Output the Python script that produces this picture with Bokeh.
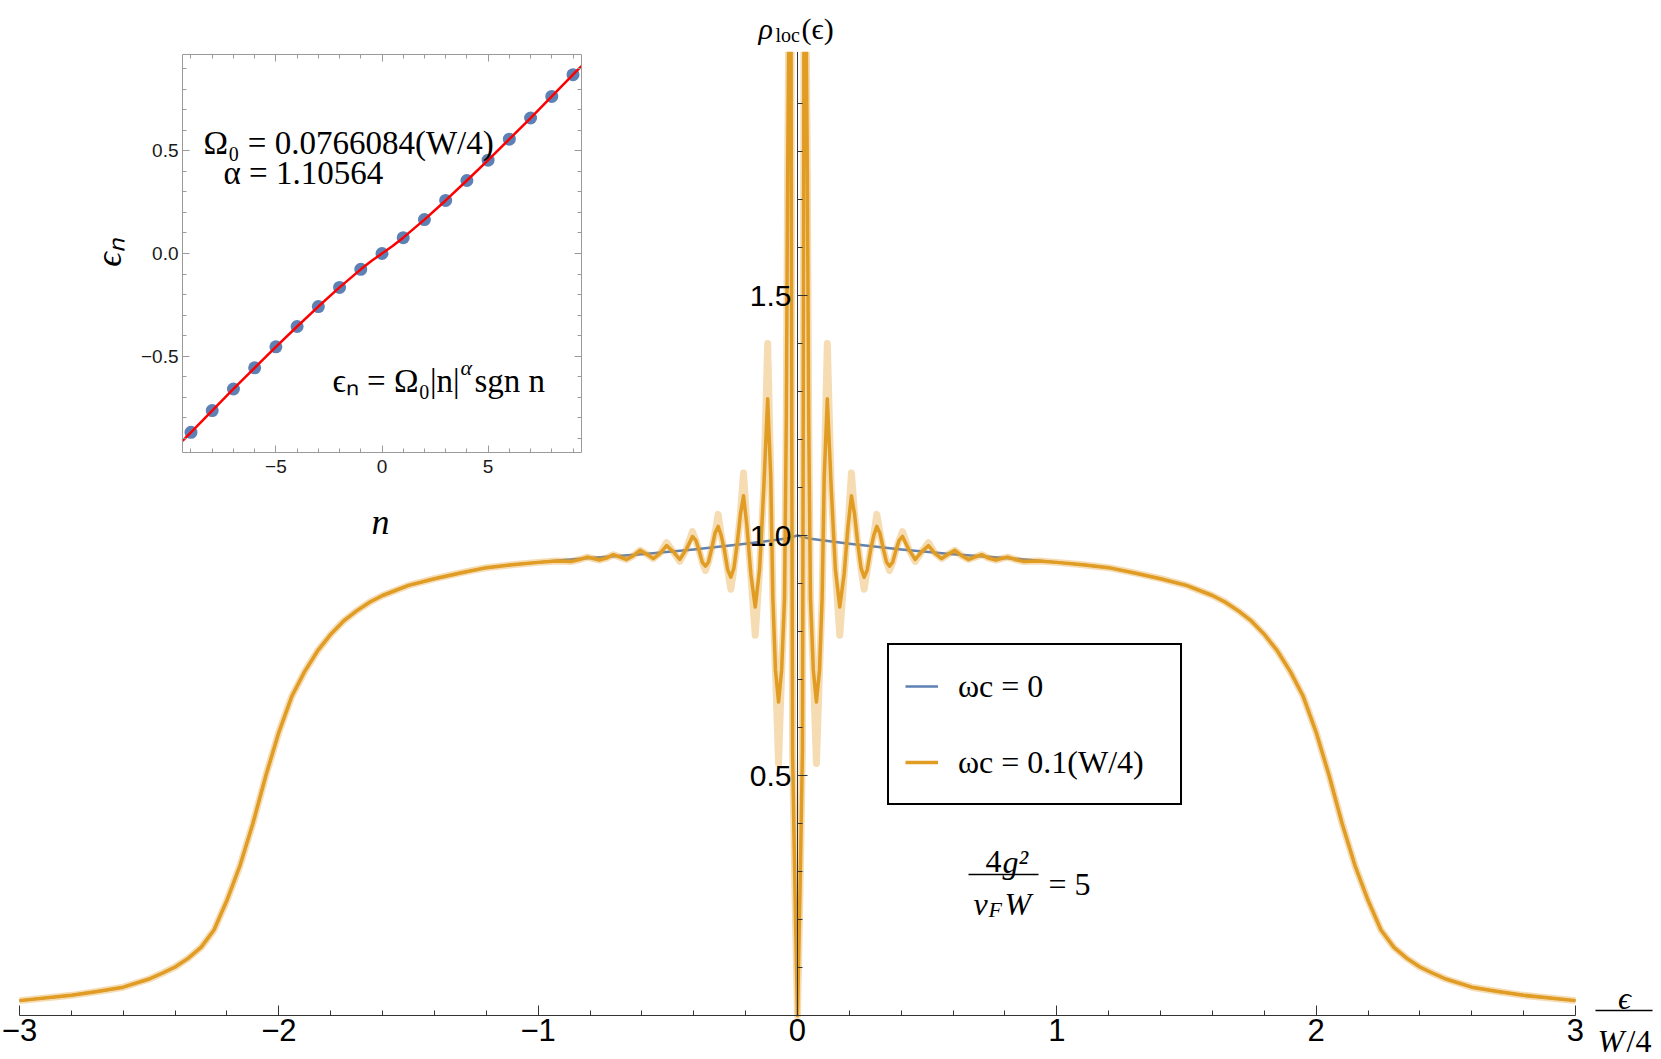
import math
from bokeh.plotting import figure
from bokeh.models import (LinearAxis, FixedTicker, Range1d, Label, Legend, LegendItem, BoxAnnotation)
from bokeh.embed import file_html
from bokeh.resources import INLINE

# ---------------- data ----------------
# band-edge shoulders (both curves coincide there)
shoulder_x_left = [-3.0, -2.8, -2.7, -2.6, -2.5, -2.45, -2.4, -2.35, -2.3, -2.25, -2.2, -2.15, -2.1, -2.05,
                   -2.0, -1.95, -1.9, -1.85, -1.8, -1.75, -1.7, -1.65, -1.6, -1.5, -1.4, -1.3, -1.2, -1.1, -1.0]
shoulder_y_left = [0.031, 0.042, 0.050, 0.059, 0.076, 0.088, 0.101, 0.119, 0.142, 0.178, 0.240, 0.312, 0.400, 0.500,
                   0.590, 0.665, 0.717, 0.760, 0.794, 0.822, 0.843, 0.861, 0.875, 0.896, 0.910, 0.922, 0.933, 0.939, 0.944]
shoulder_x_right = [1.0, 1.1, 1.2, 1.3, 1.4, 1.5, 1.6, 1.65, 1.7, 1.75, 1.8, 1.85, 1.9, 1.95, 2.0,
                    2.05, 2.1, 2.15, 2.2, 2.25, 2.3, 2.35, 2.4, 2.45, 2.5, 2.6, 2.7, 2.8, 3.0]
shoulder_y_right = [0.944, 0.939, 0.933, 0.922, 0.910, 0.896, 0.875, 0.861, 0.843, 0.822, 0.794, 0.760, 0.717, 0.665,
                    0.590, 0.500, 0.400, 0.312, 0.240, 0.178, 0.142, 0.119, 0.101, 0.088, 0.076, 0.059, 0.050, 0.042, 0.031]

# omega_c = 0 (blue) central part
blue_center_x = [-0.9, -0.8, -0.6, -0.4, -0.2, -0.05, 0.0, 0.05, 0.2, 0.4, 0.6, 0.8, 0.9]
blue_center_y = [0.949, 0.953, 0.961, 0.971, 0.983, 0.993, 1.0, 0.993, 0.983, 0.971, 0.961, 0.953, 0.949]

# omega_c = 0.1 (orange) central oscillating part (the two central spikes leave the plot range)
osc_x_left = [-0.93, -0.87, -0.84, -0.81, -0.787, -0.764, -0.737, -0.71, -0.684, -0.659, -0.633, -0.607, -0.581,
              -0.556, -0.53, -0.505, -0.48, -0.454, -0.43, -0.405, -0.392, -0.38, -0.367, -0.355, -0.343,
              -0.331, -0.318, -0.306, -0.294, -0.282, -0.269, -0.257, -0.245, -0.232, -0.220, -0.208, -0.195,
              -0.18, -0.163, -0.146, -0.13, -0.115, -0.103, -0.095, -0.085, -0.073, -0.061, -0.05, -0.043,
              -0.038, -0.033, -0.029, -0.025, -0.022, -0.019, -0.012, -0.006, 0.0]
osc_y_left = [0.947, 0.946, 0.950, 0.955, 0.952, 0.949, 0.953, 0.960, 0.955, 0.950, 0.958, 0.969, 0.961,
              0.952, 0.963, 0.979, 0.967, 0.950, 0.970, 0.998, 0.990, 0.970, 0.944, 0.936, 0.945,
              0.972, 1.005, 1.019, 1.000, 0.970, 0.928, 0.913, 0.932, 0.985, 1.045, 1.083, 1.02,
              0.920, 0.851, 0.930, 1.10, 1.285, 1.12, 0.87, 0.72, 0.653, 0.72, 0.87, 1.25,
              1.75, 2.09, 2.09, 2.09, 1.2, 0.55, 0.33, 0.16, 0.0]
osc_band_left = [0.947, 0.946, 0.950, 0.955, 0.952, 0.949, 0.953, 0.960, 0.955, 0.950, 0.958, 0.969, 0.961,
                 0.952, 0.963, 0.985, 0.967, 0.946, 0.970, 1.008, 0.990, 0.970, 0.944, 0.927, 0.945,
                 0.972, 1.005, 1.044, 1.000, 0.970, 0.928, 0.888, 0.932, 0.985, 1.045, 1.13, 1.02,
                 0.920, 0.792, 0.930, 1.10, 1.40, 1.12, 0.87, 0.72, 0.525, 0.72, 0.87, 1.25,
                 1.75, 2.09, 2.09, 2.09, 1.2, 0.55, 0.33, 0.16, 0.0]
osc_x_right = [0.006, 0.012, 0.019, 0.022, 0.025, 0.029, 0.033, 0.038, 0.043, 0.05, 0.061, 0.073, 0.085, 0.095,
               0.103, 0.115, 0.13, 0.146, 0.163, 0.18, 0.195, 0.208, 0.220, 0.232, 0.245, 0.257, 0.269, 0.282,
               0.294, 0.306, 0.318, 0.331, 0.343, 0.355, 0.367, 0.38, 0.392, 0.405, 0.43, 0.454, 0.48, 0.505,
               0.53, 0.556, 0.581, 0.607, 0.633, 0.659, 0.684, 0.71, 0.737, 0.764, 0.787, 0.81, 0.84, 0.87, 0.93]
osc_y_right = [0.16, 0.33, 0.55, 1.2, 2.09, 2.09, 2.09, 1.75, 1.25, 0.87, 0.72, 0.653, 0.72, 0.87,
               1.12, 1.285, 1.10, 0.930, 0.851, 0.920, 1.02, 1.083, 1.045, 0.985, 0.932, 0.913, 0.928, 0.970,
               1.000, 1.019, 1.005, 0.972, 0.945, 0.936, 0.944, 0.970, 0.990, 0.998, 0.970, 0.950, 0.967, 0.979,
               0.963, 0.952, 0.961, 0.969, 0.958, 0.950, 0.955, 0.960, 0.953, 0.949, 0.952, 0.955, 0.950, 0.946, 0.947]
osc_band_right = [0.16, 0.33, 0.55, 1.2, 2.09, 2.09, 2.09, 1.75, 1.25, 0.87, 0.72, 0.525, 0.72, 0.87,
                  1.12, 1.40, 1.10, 0.930, 0.792, 0.920, 1.02, 1.13, 1.045, 0.985, 0.932, 0.888, 0.928, 0.970,
                  1.000, 1.044, 1.005, 0.972, 0.945, 0.927, 0.944, 0.970, 0.990, 1.008, 0.970, 0.946, 0.967, 0.985,
                  0.963, 0.952, 0.961, 0.969, 0.958, 0.950, 0.955, 0.960, 0.953, 0.949, 0.952, 0.955, 0.950, 0.946, 0.947]

x_ticks = [-3, -2, -1, 0, 1, 2, 3]
x_tick_labels = ["\u22123", "\u22122", "\u22121", "0", "1", "2", "3"]
x_minor = [-2.8, -2.6, -2.4, -2.2, -1.8, -1.6, -1.4, -1.2, -0.8, -0.6, -0.4, -0.2,
           0.2, 0.4, 0.6, 0.8, 1.2, 1.4, 1.6, 1.8, 2.2, 2.4, 2.6, 2.8]
y_ticks = [0.5, 1.0, 1.5]
y_tick_labels = ["0.5", "1.0", "1.5"]
y_minor = [0.1, 0.2, 0.3, 0.4, 0.6, 0.7, 0.8, 0.9, 1.1, 1.2, 1.3, 1.4, 1.6, 1.7, 1.8, 1.9]
Y_TOP = 2.008      # upper end of the plotted range

# inset data
inset_n = [-9, -8, -7, -6, -5, -4, -3, -2, -1, 0, 1, 2, 3, 4, 5, 6, 7, 8, 9]
inset_eps = [-0.870, -0.764, -0.659, -0.556, -0.454, -0.355, -0.258, -0.165, -0.077, 0.0,
             0.077, 0.165, 0.258, 0.355, 0.454, 0.556, 0.659, 0.764, 0.870]
fit_n = [-9.4, -9, -8, -7, -6, -5, -4, -3, -2, -1, -0.5, 0, 0.5, 1, 2, 3, 4, 5, 6, 7, 8, 9, 9.4]
fit_eps = [-0.912, -0.870, -0.764, -0.659, -0.556, -0.454, -0.355, -0.258, -0.165, -0.077, -0.036, 0.0,
           0.036, 0.077, 0.165, 0.258, 0.355, 0.454, 0.556, 0.659, 0.764, 0.870, 0.912]
inset_x_ticks = [-5, 0, 5]
inset_x_labels = ["\u22125", "0", "5"]
inset_x_minor = [-9, -8, -7, -6, -4, -3, -2, -1, 1, 2, 3, 4, 6, 7, 8, 9]
inset_y_ticks = [-0.5, 0.0, 0.5]
inset_y_labels = ["\u22120.5", "0.0", "0.5"]
inset_y_minor = [-0.9, -0.8, -0.7, -0.6, -0.4, -0.3, -0.2, -0.1, 0.1, 0.2, 0.3, 0.4, 0.6, 0.7, 0.8, 0.9]

blue_x = shoulder_x_left + blue_center_x + shoulder_x_right
blue_y = shoulder_y_left + blue_center_y + shoulder_y_right
orange_x = shoulder_x_left + osc_x_left + osc_x_right + shoulder_x_right
orange_y = shoulder_y_left + osc_y_left + osc_y_right + shoulder_y_right
orange_band = shoulder_y_left + osc_band_left + osc_band_right + shoulder_y_right

# ---------------- layout ----------------
BLUE = "#5E81B5"
ORANGE = "#E19C24"
FW, FH = 1660, 1058
PPX, PPY = 259.33, 480.0          # px per unit of the main plot
X0PX, Y0PX = 19, 1015              # px of x = -3 and of y = 0
XSTART = -3 - X0PX / PPX
XEND = -3 + (FW - X0PX) / PPX
YSTART = -(FH - Y0PX) / PPY
YEND = Y0PX / PPY

def dx(px):
    return -3 + (px - X0PX) / PPX

def dy(py):
    return (Y0PX - py) / PPY

# inset box (px)
IN_L, IN_R, IN_T, IN_B = 182, 581, 54, 452
N0, N1, E0, E1 = -9.4, 9.4, -0.968, 0.968
ippx = (IN_R - IN_L) / (N1 - N0)
ippy = (IN_B - IN_T) / (E1 - E0)
ix = Range1d(N0 - IN_L / ippx, N1 + (FW - IN_R) / ippx)
iy = Range1d(E0 - (FH - IN_B) / ippy, E1 + IN_T / ippy)

p = figure(width=FW, height=FH, x_range=Range1d(XSTART, XEND), y_range=Range1d(YSTART, YEND),
           output_backend="svg", toolbar_location=None,
           x_axis_location=None, y_axis_location=None,
           min_border_left=0, min_border_right=0, min_border_top=0, min_border_bottom=0)
p.outline_line_color = None
p.background_fill_color = "white"
p.border_fill_color = "white"
p.grid.visible = False
p.extra_x_ranges = {"ix": ix}
p.extra_y_ranges = {"iy": iy}

# ---------------- curves ----------------
r_blue = p.line(blue_x, blue_y, line_color=BLUE, line_width=2.5, line_join="round")
p.line(orange_x, orange_band, line_color=ORANGE, line_width=7, line_alpha=0.35, line_join="round")
r_orange = p.line(orange_x, orange_y, line_color=ORANGE, line_width=3.5, line_join="round")

# plot range ends at Y_TOP: hide what goes above it near the centre
p.add_layout(BoxAnnotation(left=-0.4, right=0.4, bottom=Y_TOP, top=YEND + 1.0,
                           fill_color="white", fill_alpha=1.0, line_color=None))

# ---------------- main axes ----------------
AX = "#333333"
xax = LinearAxis(fixed_location=0, bounds=(-3, 3),
                 ticker=FixedTicker(ticks=x_ticks, minor_ticks=x_minor),
                 major_label_overrides={v: s for v, s in zip(x_ticks, x_tick_labels)},
                 axis_line_color=AX, major_tick_line_color=AX, minor_tick_line_color=AX,
                 major_tick_in=10, major_tick_out=0, minor_tick_in=5, minor_tick_out=0,
                 major_label_standoff=3, major_label_text_font="Liberation Sans",
                 major_label_text_font_size="31px", major_label_text_color="black")
p.add_layout(xax, "below")
yax = LinearAxis(fixed_location=0, bounds=(0, Y_TOP),
                 ticker=FixedTicker(ticks=y_ticks, minor_ticks=y_minor),
                 major_label_overrides={v: s for v, s in zip(y_ticks, y_tick_labels)},
                 axis_line_color=AX, major_tick_line_color=AX, minor_tick_line_color=AX,
                 major_tick_in=10, major_tick_out=0, minor_tick_in=5, minor_tick_out=0,
                 major_label_standoff=6, major_label_text_font="Liberation Sans",
                 major_label_text_font_size="30px", major_label_text_color="black")
p.add_layout(yax, "left")

# ---------------- inset ----------------
p.scatter(inset_n, inset_eps, x_range_name="ix", y_range_name="iy", size=13, fill_color=BLUE, line_color=None)
p.line(fit_n, fit_eps, x_range_name="ix", y_range_name="iy", line_color="#FF0000", line_width=2.5)

FRAME = "#9A9A9A"
common = dict(x_range_name="ix", y_range_name="iy", axis_line_color=FRAME,
              major_tick_line_color=FRAME, minor_tick_line_color=FRAME,
              major_tick_in=7, major_tick_out=0, minor_tick_in=4, minor_tick_out=0,
              major_label_text_font="Liberation Sans", major_label_text_font_size="19px",
              major_label_text_color="#1a1a1a")
ib = LinearAxis(fixed_location=E0, bounds=(N0, N1),
                ticker=FixedTicker(ticks=inset_x_ticks, minor_ticks=inset_x_minor),
                major_label_overrides={v: s for v, s in zip(inset_x_ticks, inset_x_labels)},
                major_label_standoff=7, **common)
p.add_layout(ib, "below")
it = LinearAxis(fixed_location=E1, bounds=(N0, N1),
                ticker=FixedTicker(ticks=inset_x_ticks, minor_ticks=inset_x_minor),
                major_label_overrides={v: "" for v in inset_x_ticks}, **common)
p.add_layout(it, "above")
il = LinearAxis(fixed_location=N0, bounds=(E0, E1),
                ticker=FixedTicker(ticks=inset_y_ticks, minor_ticks=inset_y_minor),
                major_label_overrides={v: s for v, s in zip(inset_y_ticks, inset_y_labels)},
                major_label_standoff=4, **common)
p.add_layout(il, "left")
ir = LinearAxis(fixed_location=N1, bounds=(E0, E1),
                ticker=FixedTicker(ticks=inset_y_ticks, minor_ticks=inset_y_minor),
                major_label_overrides={v: "" for v in inset_y_ticks}, **common)
p.add_layout(ir, "right")

# ---------------- legend ----------------
legend = Legend(items=[LegendItem(label="\u03c9c = 0", renderers=[r_blue]),
                       LegendItem(label="\u03c9c = 0.1(W/4)", renderers=[r_orange])],
                location=(887, FH - 805), orientation="vertical", margin=0,
                border_line_color="black", border_line_width=2, border_line_alpha=1.0,
                background_fill_color="white", background_fill_alpha=1.0,
                padding=16, spacing=26, glyph_width=33, glyph_height=50,
                label_height=50, label_width=206, label_standoff=20,
                label_text_font="Liberation Serif", label_text_font_size="32px",
                label_text_color="black")
p.add_layout(legend, "center")

# ---------------- texts ----------------
SERIF = "Liberation Serif"

def lab(text, px, py, size, style="normal", align="left", angle=0.0, baseline="alphabetic", font=SERIF):
    p.add_layout(Label(x=dx(px), y=dy(py), text=text, text_font=font, text_font_size=f"{size}px",
                       text_font_style=style, text_align=align, text_baseline=baseline,
                       angle=angle, text_color="black"))

# y-axis label  rho_loc(eps)
lab("\u03c1", 758, 28, 30, "italic")
lab("loc", 775, 34, 20)
lab("(\u03f5)", 801, 28, 30)

# x-axis label eps / (W/4)
lab("\u03f5", 1624, 997, 32, "italic", align="center")
p.segment(x0=[dx(1595)], y0=[dy(1010)], x1=[dx(1652)], y1=[dy(1010)], line_color="black", line_width=1.5)
lab("W", 1597, 1040, 32, "italic")
lab("/4", 1626, 1040, 32)

# 4g^2/(v_F W) = 5
lab("4", 985, 861, 32)
lab("g\u00b2", 1002, 861, 32, "italic")
p.segment(x0=[dx(968)], y0=[dy(874)], x1=[dx(1038)], y1=[dy(874)], line_color="black", line_width=1.5)
lab("v", 973, 903, 32, "italic")
lab("F", 988, 909, 22, "italic")
lab("W", 1004, 903, 32, "italic")
lab("= 5", 1048, 883, 32)

# inset annotations
lab("\u03a9\u2080 = 0.0766084(W/4)", 203, 142, 33)
lab("\u03b1 = 1.10564", 223, 172, 33)
lab("\u03f5\u2099 = \u03a9\u2080|n|", 332, 380, 33)
lab("\u03b1", 460, 367, 22, "italic")
lab("sgn n", 474, 380, 33)
lab("n", 380, 521, 36, "italic", align="center")
lab("\u03f5\u2099", 108, 252, 36, "italic", align="center", angle=math.pi / 2, baseline="middle")

open("out.html", "w").write(file_html(p, INLINE))
